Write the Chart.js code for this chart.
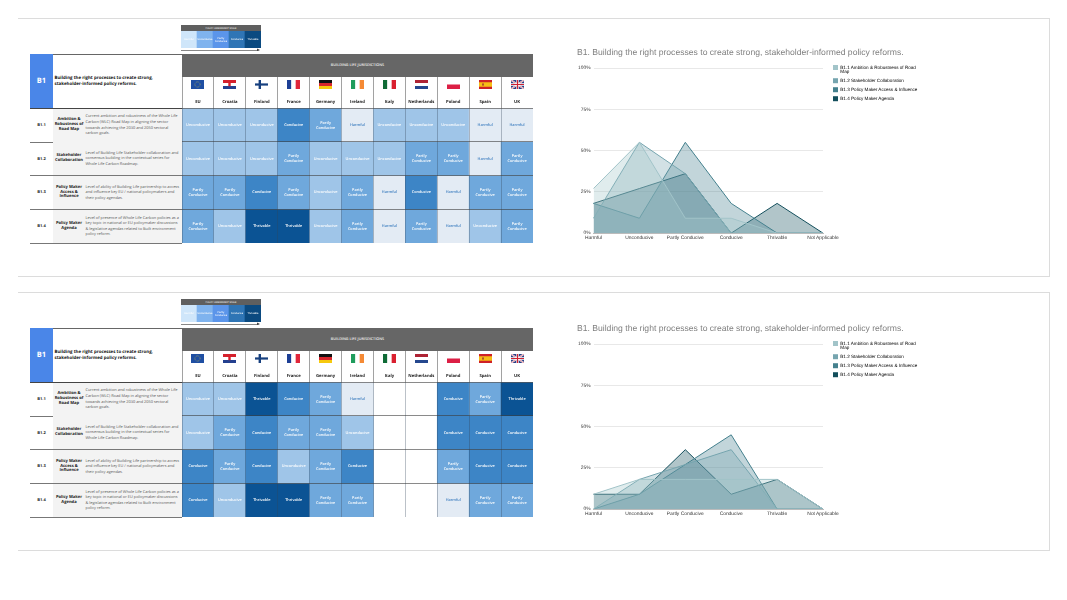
<!DOCTYPE html>
<html>
<head>
<meta charset="utf-8">
<title>B1 policy reforms</title>
<script src="https://cdn.jsdelivr.net/npm/chart.js@4"></script>
<style>
  html, body { margin: 0; background: #fff; overflow: hidden; }
  body { width: 1067px; height: 600px; position: relative; font-family: "Open Sans", sans-serif; text-rendering: geometricPrecision; filter: blur(.4px); }
  .abs { position: absolute; box-sizing: border-box; }
  canvas { position: absolute; }
  .frame { border: 1px solid #dcdcdc; border-left: 0; }
  .center { display: flex; align-items: center; justify-content: center; text-align: center; }
</style>
</head>
<body>
<script>
// ==============================
// DATA
// ==============================
const H = "Harmful", U = "Unconducive", P = "Partly Conducive", C = "Conducive", T = "Thrivable", NA = null;

const categories = ["Harmful", "Unconducive", "Partly Conducive", "Conducive", "Thrivable", "Not Applicable"];
const scaleLevels = [H, U, P, C, T];
const countries = ["EU", "Croatia", "Finland", "France", "Germany", "Ireland", "Italy", "Netherlands", "Poland", "Spain", "UK"];
const rowIds = ["B1.1", "B1.2", "B1.3", "B1.4"];
const rowNames = ["Ambition &<br>Robustness of<br>Road Map", "Stakeholder<br>Collaboration", "Policy Maker<br>Access &<br>Influence", "Policy Maker<br>Agenda"];
const rowTexts = [
  "Current ambition and robustness of the Whole Life<br>Carbon (WLC) Road Map in aligning the sector<br>towards achieving the 2030 and 2050 sectoral<br>carbon goals.",
  "Level of Building Life Stakeholder collaboration and<br>consensus building in the contextual series for<br>Whole Life Carbon Roadmap.",
  "Level of ability of Building Life partnership to access<br>and influence key EU / national policymakers and<br>their policy agendas.",
  "Level of presence of Whole Life Carbon policies as a<br>key topic in national or EU policymaker discussions<br>&amp; legislative agendas related to Built environment<br>policy reform."
];
const seriesNames = ["B1.1 Ambition & Robustness of Road Map", "B1.2 Stakeholder Collaboration", "B1.3 Policy Maker Access & Influence", "B1.4 Policy Maker Agenda"];

// top table
const topRow1 = [U, U, U, C, P, H, U, U, U, H, H];
const topRow2 = [U, U, U, P, U, U, U, P, P, H, P];
const topRow3 = [P, P, C, P, U, P, H, C, H, P, P];
const topRow4 = [P, U, T, T, U, P, H, P, H, U, P];

// bottom table (Italy and Netherlands are empty)
const bottomRow1 = [U, U, T, C, P, H, NA, NA, C, P, T];
const bottomRow2 = [U, P, C, P, P, U, NA, NA, C, C, C];
const bottomRow3 = [C, P, C, U, P, C, NA, NA, P, C, C];
const bottomRow4 = [C, U, T, T, P, P, NA, NA, H, P, P];

// top area chart, percent
const topAmbition = [27, 55, 9, 9, 0, 0];
const topCollab = [9, 55, 36, 0, 0, 0];
const topAccess = [18, 9, 55, 18, 0, 0];
const topAgenda = [18, 27, 36, 0, 18, 0];

// bottom area chart, percent
const bottomAmbition = [9, 18, 18, 18, 18, 0];
const bottomCollab = [0, 18, 27, 36, 0, 0];
const bottomAccess = [0, 9, 27, 45, 0, 0];
const bottomAgenda = [9, 9, 36, 9, 18, 0];

// ==============================
// COLOURS
// ==============================
const cellColors = { [H]: "#e3ebf4", [U]: "#9fc5e8", [P]: "#6fa8dc", [C]: "#3d85c6", [T]: "#0b5394" };
const scaleColors = { [H]: "#cfe6fa", [U]: "#7fb3ee", [P]: "#5b95ea", [C]: "#2f75b5", [T]: "#0b4a80" };
const seriesColors = ["162,196,201", "118,165,175", "69,129,142", "19,79,92"];

// ==============================
// SMALL HELPERS
// ==============================
function box(left, top, width, height, css, html) {
  const el = document.createElement("div");
  el.className = "abs";
  el.style.cssText = `left:${left}px;top:${top}px;width:${width}px;height:${height}px;${css || ""}`;
  if (html) el.innerHTML = html;
  document.body.appendChild(el);
  return el;
}

function makeCanvas(left, top, width, height) {
  const c = document.createElement("canvas");
  c.style.left = left + "px";
  c.style.top = top + "px";
  c.style.width = width + "px";
  c.style.height = height + "px";
  document.body.appendChild(c);
  return c;
}

function stripes(dir, colors) {
  const n = colors.length;
  return colors.map((col, i) => dir === "h"
    ? `<rect x="0" y="${i * 9 / n}" width="13" height="${9 / n + 0.1}" fill="${col}"/>`
    : `<rect x="${i * 13 / n}" y="0" width="${13 / n + 0.1}" height="9" fill="${col}"/>`).join("");
}

const flags = {
  EU: '<rect width="13" height="9" fill="#1f4fa3"/><circle cx="6.5" cy="4.5" r="2.6" fill="none" stroke="#e8cf3a" stroke-width=".6" stroke-dasharray=".6 .7"/>',
  Croatia: stripes("h", ["#d5202c", "#fff", "#23408f"]) + '<rect x="5.3" y="2.8" width="2.4" height="3.4" fill="#d5202c"/>',
  Finland: '<rect width="13" height="9" fill="#fff"/><rect x="3.6" width="2.4" height="9" fill="#17407f"/><rect y="3.4" width="13" height="2.2" fill="#17407f"/>',
  France: stripes("v", ["#1d3f95", "#fff", "#e0263a"]),
  Germany: stripes("h", ["#111", "#d8262c", "#f6c90e"]),
  Ireland: stripes("v", ["#1f9c5c", "#fff", "#f58a35"]),
  Italy: stripes("v", ["#0f6b36", "#fff", "#d9202f"]),
  Netherlands: stripes("h", ["#ae2334", "#fff", "#25478e"]),
  Poland: stripes("h", ["#fff", "#dc1f45"]),
  Spain: '<rect width="13" height="9" fill="#cf2027"/><rect y="2.25" width="13" height="4.5" fill="#f6bd15"/><rect x="3" y="3.4" width="2" height="2.2" fill="#b5522b"/>',
  UK: '<rect width="13" height="9" fill="#2a3f85"/><path d="M0 0L13 9M13 0L0 9" stroke="#fff" stroke-width="1.6"/><path d="M0 0L13 9M13 0L0 9" stroke="#cf2031" stroke-width=".5"/><path d="M6.5 0V9M0 4.5H13" stroke="#fff" stroke-width="2.4"/><path d="M6.5 0V9M0 4.5H13" stroke="#cf2031" stroke-width="1.2"/>'
};

// ==============================
// PLUGINS
// ==============================
// tiny text keeps its real widths only with this on
Chart.register({
  id: "preciseText",
  beforeDraw(chart) { chart.ctx.textRendering = "geometricPrecision"; }
});

const cellText = {
  id: "cellText",
  afterDatasetsDraw(chart, args, opts) {
    const ctx = chart.ctx;
    ctx.save();
    ctx.font = `600 ${opts.size}px "Open Sans"`;
    ctx.textAlign = "center";
    ctx.textBaseline = "middle";
    chart.data.datasets.forEach((ds, i) => {
      chart.getDatasetMeta(i).data.forEach((bar, j) => {
        const level = ds.levels[j];
        if (!level) return;
        const midY = (bar.y + bar.base) / 2;
        ctx.fillStyle = level === H && opts.darkHarmful ? "#3f7fc0" : "#fff";
        if (level === P) {
          ctx.fillText("Partly", bar.x, midY - opts.size * 0.62);
          ctx.fillText("Conducive", bar.x, midY + opts.size * 0.62);
        } else {
          ctx.fillText(level, bar.x, midY);
        }
      });
    });
    ctx.restore();
  }
};

// legend sits a little away from the plot and starts above it
const legendGap = {
  id: "legendGap",
  afterLayout(chart) {
    chart.legend.left += 6;
    chart.legend.right += 15;
    chart.legend.top -= 7;
  }
};

// ==============================
// HEAT TABLE (floating bars on a row scale)
// ==============================
function renderHeat(top, rows) {
  new Chart(makeCanvas(182, top + 23, 351, 166), {
    type: "bar",
    data: {
      labels: countries,
      datasets: rows.map((row, r) => ({
        levels: row,
        data: row.map(level => (level ? [r, r + 1] : null)),
        backgroundColor: row.map(level => cellColors[level] || "#fff"),
        borderWidth: 0,
        barPercentage: 1,
        categoryPercentage: 1,
        grouped: false
      }))
    },
    options: {
      responsive: false,
      animation: false,
      layout: { padding: 0 },
      plugins: {
        legend: { display: false },
        title: { display: false },
        tooltip: { enabled: false },
        cellText: { size: 3.8, darkHarmful: true }
      },
      scales: {
        x: {
          position: "top",
          afterFit(s) { s.height = 31; },
          grid: { z: 1, color: "rgba(50,70,90,.42)", tickColor: "#8a8a8a", tickLength: 31, lineWidth: 0.8 },
          border: { display: false },
          ticks: {
            autoSkip: false, maxRotation: 0, padding: -27, // names sit under the flags
            color: "#222", font: { family: "Open Sans", size: 4.2, weight: "bold" }
          }
        },
        y: {
          reverse: true, min: 0, max: 4,
          afterFit(s) { s.width = 0; },
          grid: { z: 1, color: "rgba(60,60,60,.6)", drawTicks: false, lineWidth: 1 },
          border: { display: false },
          ticks: { display: false, stepSize: 1 }
        }
      }
    },
    plugins: [cellText]
  });
}

function renderScale(top) {
  new Chart(makeCanvas(181, top + 6, 80, 17), {
    type: "bar",
    data: {
      labels: scaleLevels,
      datasets: [{
        levels: scaleLevels,
        data: scaleLevels.map(() => [0, 1]),
        backgroundColor: scaleLevels.map(level => scaleColors[level]),
        borderWidth: 0, barPercentage: 1, categoryPercentage: 1
      }]
    },
    options: {
      responsive: false,
      animation: false,
      layout: { padding: 0 },
      plugins: { legend: { display: false }, tooltip: { enabled: false }, cellText: { size: 2.4, darkHarmful: false } },
      scales: {
        x: { display: false },
        y: { display: false, min: 0, max: 1 }
      }
    },
    plugins: [cellText]
  });
}

// ==============================
// AREA CHART
// ==============================
function renderArea(top, seriesList) {
  new Chart(makeCanvas(577, top, 343, 199), {
    type: "line",
    data: {
      labels: categories,
      datasets: seriesList.map((values, i) => ({
        label: seriesNames[i],
        data: values,
        fill: "origin",
        tension: 0,
        pointRadius: 0,
        borderWidth: 1,
        borderColor: `rgb(${seriesColors[i]})`,
        backgroundColor: `rgba(${seriesColors[i]},.33)`
      }))
    },
    options: {
      responsive: false,
      animation: false,
      layout: { padding: { right: 15 } },
      plugins: {
        tooltip: { enabled: false },
        title: {
          display: true, align: "start", color: "#808080",
          text: "B1. Building the right processes to create strong, stakeholder-informed policy reforms.",
          font: { family: "Liberation Sans", size: 8.6, weight: "normal" },
          padding: { top: 3, bottom: 10.7 }
        },
        legend: {
          position: "right", align: "start", fullSize: false,
          labels: {
            boxWidth: 5, boxHeight: 5, padding: 4, color: "#333",
            font: { family: "Liberation Sans", size: 4.6, lineHeight: 1 },
            generateLabels(chart) {
              return chart.data.datasets.map((ds, i) => ({
                text: i === 0 ? ["B1.1 Ambition & Robustness of Road", "Map"] : ds.label,
                fillStyle: `rgb(${seriesColors[i]})`,
                strokeStyle: `rgb(${seriesColors[i]})`,
                lineWidth: 0,
                datasetIndex: i
              }));
            }
          }
        }
      },
      scales: {
        x: {
          grid: { display: false, drawTicks: false },
          border: { color: "#bbb" },
          ticks: {
            autoSkip: false, maxRotation: 0, padding: 2, color: "#333",
            font: { family: "Liberation Sans", size: 4.9 }
          }
        },
        y: {
          min: 0, max: 100,
          afterFit(s) { s.width = 16.5; },
          grid: { color: "#e8e8e8", drawTicks: false },
          border: { display: false },
          ticks: {
            stepSize: 25, padding: 3, color: "#333",
            font: { family: "Liberation Sans", size: 4.9 },
            callback: v => v + "%"
          }
        }
      }
    },
    plugins: [legendGap]
  });
}

// ==============================
// ONE PANEL = frame + table + chart
// ==============================
function renderPanel(top, frameTop, frameHeight, chartTop, rows, seriesList) {
  box(18, frameTop, 1032, frameHeight).className = "abs frame";

  // small scale key above the table
  box(181, top - 29, 80, 6, "background:#5f5f5f;color:#fff;font-size:2.4px;", "POLICY ASSESSMENT SCALE").classList.add("center");
  renderScale(top - 29);
  box(181, top - 4.5, 76, 0.8, "background:#888;");
  box(257, top - 5.6, 3, 3, "background:#444;clip-path:polygon(0 0,100% 50%,0 100%);");

  // table header
  box(30, top, 503, 1, "background:#666;");
  box(182, top, 351, 23, "background:#666;color:#f2f2f2;font-size:3.7px;font-weight:600;", "BUILDING LIFE JURISDICTIONS").classList.add("center");
  box(30, top, 23, 54.5, "background:#4a86e8;color:#fff;font-size:7.5px;font-weight:700;", "B1").classList.add("center");
  box(54.5, top + 21, 122, 14, "color:#111;font-size:4.4px;font-weight:700;line-height:6.2px;white-space:nowrap;",
    "Building the right processes to create strong,<br>stakeholder-informed policy reforms.");
  box(30, top + 54, 152, 0.9, "background:#444;");

  // table rows, left side
  rows.forEach((row, r) => {
    const y = top + 54.5 + r * 33.75;
    box(53, y, 129, 33.75, "background:#f3f3f3;");
    box(30, y, 23, 33.75, "color:#222;font-size:4px;font-weight:700;", rowIds[r]).classList.add("center");
    box(53, y, 32, 33.75, "color:#222;font-size:4.1px;font-weight:700;line-height:4.7px;", rowNames[r]).classList.add("center");
    box(85.5, y + 1, 96.5, 32, "display:flex;align-items:center;color:#5a5a5a;font-size:3.9px;line-height:5.6px;white-space:nowrap;", `<span>${rowTexts[r]}</span>`);
    box(30, y + 33.2, 152, 0.9, "background:#777;");
  });

  renderHeat(top, rows);

  // flags
  countries.forEach((name, i) => {
    const cx = 182 + (i + 0.5) * 351 / 11;
    box(cx - 6.5, top + 26, 13, 9, "", `<svg width="13" height="9" viewBox="0 0 13 9" style="display:block">${flags[name]}</svg>`);
  });

  renderArea(chartTop, seriesList);
}

// ==============================
// INITIAL LOAD
// ==============================
renderPanel(54, 18, 259, 44, [topRow1, topRow2, topRow3, topRow4], [topAmbition, topCollab, topAccess, topAgenda]);
renderPanel(328, 292, 259, 320, [bottomRow1, bottomRow2, bottomRow3, bottomRow4], [bottomAmbition, bottomCollab, bottomAccess, bottomAgenda]);
</script>
</body>
</html>
